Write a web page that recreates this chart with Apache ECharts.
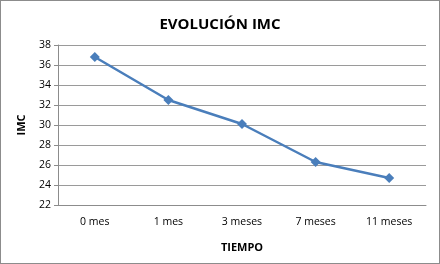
<!DOCTYPE html>
<html><head><meta charset="utf-8">
<script src="https://cdn.jsdelivr.net/npm/echarts@6/dist/echarts.min.js"></script>
<style>html,body{margin:0;padding:0;background:#fff}#c{width:440px;height:264px;box-sizing:border-box;border:1px solid #8c8c8c}</style>
</head><body><div id="c"></div>
<script>
const categories = ['0 mes','1 mes','3 meses','7 meses','11 meses'];
const imcValues = [36.8, 32.5, 30.1, 26.3, 24.7];
const yMin = 22, yMax = 38, yStep = 2;
const chart = echarts.init(document.getElementById('c'));
const font = 'Open Sans, Liberation Sans, sans-serif';
chart.setOption({
  animation:false,
  title:{text:'EVOLUCIÓN IMC',left:'center',top:11,textStyle:{fontFamily:font,fontSize:15,fontWeight:'bold',color:'#000'}},
  grid:{left:57,right:13,top:44,bottom:58},
  xAxis:{type:'category',data:categories,boundaryGap:true,
    axisLine:{lineStyle:{color:'#8c8c8c'}},axisTick:{show:false},
    axisLabel:{fontFamily:font,fontSize:10.5,color:'#000',margin:12},
    name:'TIEMPO',nameLocation:'middle',nameGap:37,nameTextStyle:{fontFamily:font,fontSize:11,fontWeight:'bold',color:'#000'}},
  yAxis:{type:'value',min:yMin,max:yMax,interval:yStep,
    axisLine:{show:true,lineStyle:{color:'#8c8c8c'}},axisTick:{show:true,length:4,lineStyle:{color:'#8c8c8c'}},
    splitLine:{lineStyle:{color:'#9a9a9a'}},
    axisLabel:{fontFamily:font,fontSize:10.5,color:'#000',margin:7},
    name:'IMC',nameLocation:'middle',nameGap:31,nameRotate:90,nameTextStyle:{fontFamily:font,fontSize:11,fontWeight:'bold',color:'#000'}},
  series:[{type:'line',data:imcValues,symbol:'diamond',symbolSize:10,
    lineStyle:{color:'#4a7ebb',width:2.5},itemStyle:{color:'#4a7ebb'}}]
});
</script></body></html>
